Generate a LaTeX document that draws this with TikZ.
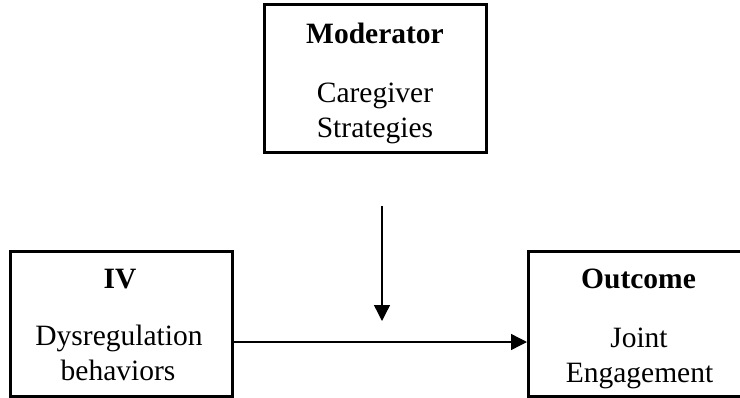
\documentclass[tikz,border=0pt]{standalone}
\usepackage{fontspec}
\setmainfont{Liberation Serif}
\usetikzlibrary{arrows.meta}
\begin{document}
\begin{tikzpicture}[x=1pt,y=-1pt,
  box/.style={draw, line width=3pt, inner sep=0pt},
  lbl/.style={font=\fontsize{29.5}{35}\selectfont, anchor=base, inner sep=0pt},
  hdr/.style={lbl, font=\fontsize{29.5}{35}\selectfont\bfseries},
  conn/.style={line width=1.4pt, -{Triangle[length=16pt,width=16pt]}}]
\useasboundingbox (0,0) rectangle (740,397);
% boxes
\node[box, minimum width=222.5pt, minimum height=147.5pt] (mod) at (375.25,78.25) {};
\node[box, minimum width=222pt, minimum height=145pt] (iv) at (121,323.5) {};
\node[box, minimum width=222.5pt, minimum height=145pt] (out) at (639.75,323.5) {};
% texts
\node[hdr] (modh) at (375,43) {Moderator};
\node[lbl] (mod1) at (375,102) {Caregiver};
\node[lbl] (mod2) at (375,137) {Strategies};
\node[hdr] (ivh) at (120,288) {IV};
\node[lbl] (iv1) at (119,345) {Dysregulation};
\node[lbl] (iv2) at (118,380) {behaviors};
\node[hdr] (outh) at (638.5,288) {Outcome};
\node[lbl] (out1) at (639,347) {Joint};
\node[lbl] (out2) at (639.5,382) {Engagement};
% connectors
\coordinate (mstart) at (382,206);
\coordinate (mend) at (382,321);
\coordinate (hline) at (0,342);
\draw[conn] (mstart) -- (mend);
\draw[conn] (iv.east |- hline) -- (out.west |- hline);
\end{tikzpicture}
\end{document}
